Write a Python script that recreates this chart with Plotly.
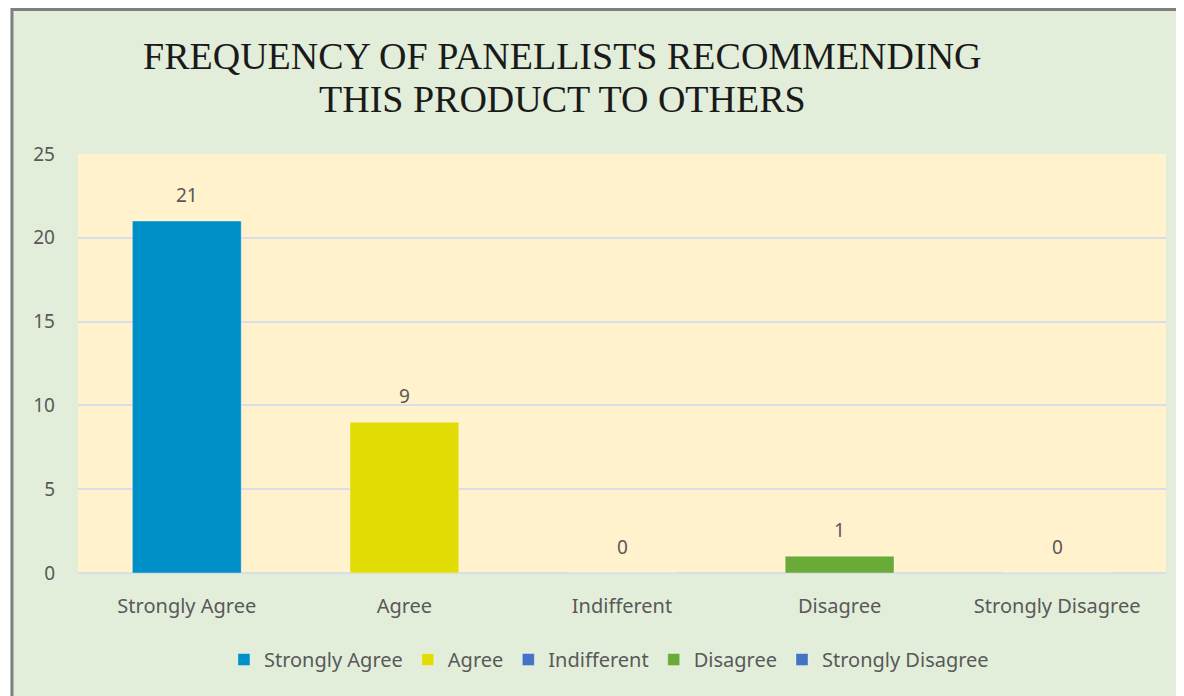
import plotly.graph_objects as go

categories = ["Strongly Agree", "Agree", "Indifferent", "Disagree", "Strongly Disagree"]
counts = [21, 9, 0, 1, 0]
bar_colors = ["#0090c8", "#e2dc05", "#4472c4", "#6aab38", "#4472c4"]
title_lines = ["FREQUENCY OF PANELLISTS RECOMMENDING", "THIS PRODUCT TO OTHERS"]

font_txt = "Noto Sans, Open Sans, sans-serif"
font_title = "Liberation Serif, Times New Roman, serif"
grey = "#595959"

fig = go.Figure()
for cat, val, col in zip(categories, counts, bar_colors):
    fig.add_trace(go.Bar(
        x=[cat], y=[val], name=cat,
        marker=dict(color=col, line=dict(color="rgba(255,255,255,0.35)", width=1)),
        width=0.5,
    ))
    # value label above each bar
    fig.add_annotation(x=cat, y=val, text=str(val), showarrow=False,
                       yanchor="middle", yshift=26,
                       font=dict(family=font_txt, size=19, color=grey))

# outer chart panel with grey frame, then the plot area fill
fig.add_shape(type="rect", xref="paper", yref="paper",
              x0=-0.0607, x1=1.1, y0=-0.5, y1=1.345,
              fillcolor="#e2eed9", line=dict(color="#7f7f7f", width=3),
              layer="below")
fig.add_shape(type="rect", xref="paper", yref="paper",
              x0=0, x1=1, y0=0, y1=1,
              fillcolor="#fff2cc", line=dict(width=0), layer="below")

# two-line title
for txt, ty in zip(title_lines, [1.234, 1.132]):
    fig.add_annotation(xref="paper", yref="paper", x=0.445, y=ty, text=txt,
                       showarrow=False, xanchor="center", yanchor="middle",
                       font=dict(family=font_title, size=38, color="#1a1a1a"))

# the page body has an 8px margin, so the margins are shifted by that much
fig.update_layout(
    width=1184, height=696,
    margin=dict(l=70, r=26, t=146, b=131),
    paper_bgcolor="white",
    plot_bgcolor="rgba(0,0,0,0)",
    barmode="overlay",
    showlegend=True,
    legend=dict(
        orientation="h", x=0.488, xanchor="center", y=-0.16, yanchor="top",
        font=dict(family=font_txt, size=20, color=grey),
        bgcolor="rgba(0,0,0,0)", itemwidth=30,
    ),
    xaxis=dict(
        tickfont=dict(family=font_txt, size=20, color=grey),
        showgrid=False, showline=False, ticks="", ticklabelstandoff=19,
    ),
    yaxis=dict(
        range=[0, 25], dtick=5, showgrid=True, gridcolor="#d9dfe8", gridwidth=2,
        zeroline=True, zerolinecolor="#d9dfe8", zerolinewidth=2,
        tickfont=dict(family=font_txt, size=19, color=grey),
        ticks="", ticklabelstandoff=22,
    ),
)

fig.write_html("out.html")
